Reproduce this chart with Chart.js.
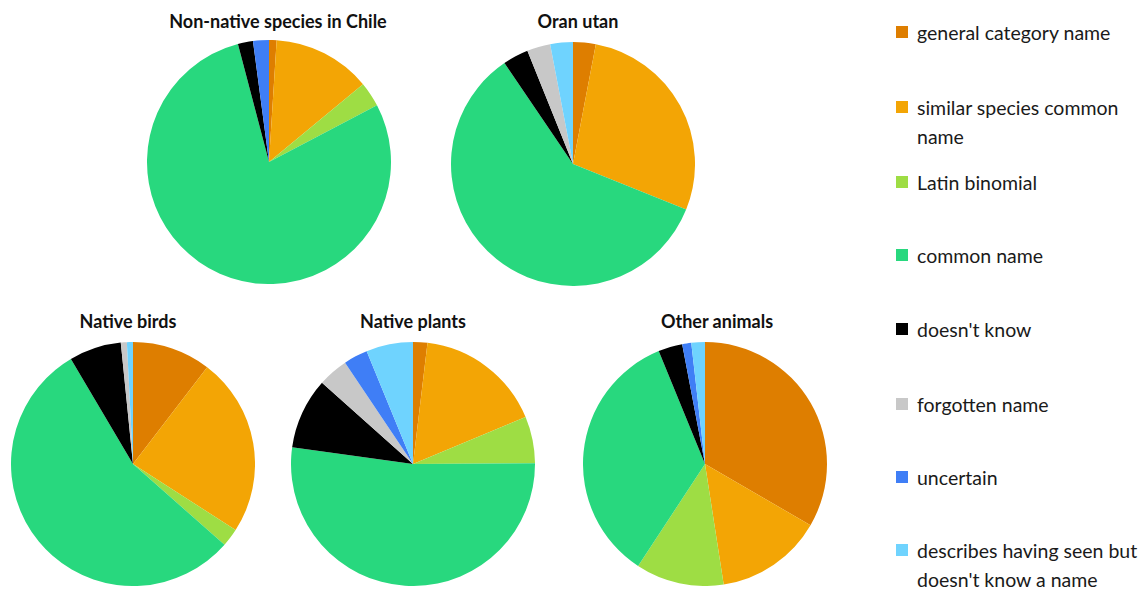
<!DOCTYPE html>
<html>
<head>
<meta charset="utf-8">
<script src="https://cdn.jsdelivr.net/npm/chart.js@4"></script>
<style>
  body { margin: 0; background: #fff; width: 1148px; height: 589px; position: relative; overflow: hidden; font-family: Lato, "Open Sans", sans-serif; }
  .pie { position: absolute; }
  .ttl { position: absolute; font-weight: bold; font-size: 18px; color: #111; transform: translateX(-50%); white-space: nowrap; }
  #legend { position: absolute; left: 896px; top: 0; }
  .item { position: absolute; left: 0; width: 252px; font-size: 19.5px; line-height: 29px; color: #1a1a1a; }
  .sw { position: absolute; left: 0; top: 8px; width: 12px; height: 12px; }
  .lbl { margin-left: 21px; }
</style>
</head>
<body>
<div id="legend"></div>
<script>
const categories = [
  "general category name",
  "similar species common name",
  "Latin binomial",
  "common name",
  "doesn't know",
  "forgotten name",
  "uncertain",
  "describes having seen but doesn't know a name",
];
const colors = ["#DE7E00", "#F3A505", "#9EDD44", "#28D87E", "#000000", "#C8C8C8", "#3F7EF6", "#6FD3FE"];

const titles = ["Non-native species in Chile", "Oran utan", "Native birds", "Native plants", "Other animals"];
const nonNative = [1, 13, 3.3, 78.6, 2, 0, 2.1, 0];
const oranUtan = [3, 28.1, 0, 59.4, 3.4, 3.1, 0, 3];
const nativeBirds = [10.4, 23.7, 2.4, 55, 6.9, 0.8, 0, 0.8];
const nativePlants = [1.9, 16.8, 6.2, 52.3, 9.4, 4, 3.2, 6.2];
const otherAnimals = [33.4, 14.2, 11.7, 34.6, 3.2, 0, 1.2, 1.8];

const series = [nonNative, oranUtan, nativeBirds, nativePlants, otherAnimals];
// pie centres and title positions on the page
const places = [
  { cx: 269, cy: 162, tx: 278, ty: 10 },
  { cx: 573, cy: 164, tx: 578, ty: 10 },
  { cx: 133, cy: 464, tx: 128, ty: 310 },
  { cx: 413, cy: 464, tx: 413, ty: 310 },
  { cx: 705, cy: 464, tx: 717, ty: 310 },
];
const R = 121;

series.forEach((vals, i) => {
  const p = places[i];
  const c = document.createElement("canvas");
  c.className = "pie";
  c.width = 2 * R + 2;
  c.height = 2 * R + 2;
  c.style.left = (p.cx - R - 1) + "px";
  c.style.top = (p.cy - R - 1) + "px";
  document.body.appendChild(c);

  const t = document.createElement("div");
  t.className = "ttl";
  t.textContent = titles[i];
  t.style.left = p.tx + "px";
  t.style.top = p.ty + "px";
  document.body.appendChild(t);

  new Chart(c, {
    type: "pie",
    data: {
      labels: categories,
      datasets: [{ data: vals, backgroundColor: colors, borderWidth: 0 }],
    },
    options: {
      responsive: false,
      animation: false,
      layout: { padding: 0 },
      plugins: { legend: { display: false }, tooltip: { enabled: false } },
    },
  });
});

// legend on the right
const legendTops = [18, 93, 168, 241, 315, 390, 463, 536];
const legendLines = [
  ["general category name"],
  ["similar species common", "name"],
  ["Latin binomial"],
  ["common name"],
  ["doesn't know"],
  ["forgotten name"],
  ["uncertain"],
  ["describes having seen but", "doesn't know a name"],
];
const lg = document.getElementById("legend");
categories.forEach((cat, i) => {
  const d = document.createElement("div");
  d.className = "item";
  d.style.top = legendTops[i] + "px";
  d.innerHTML = '<span class="sw" style="background:' + colors[i] + '"></span><div class="lbl">' +
    legendLines[i].join("<br>") + "</div>";
  lg.appendChild(d);
});
</script>
</body>
</html>
